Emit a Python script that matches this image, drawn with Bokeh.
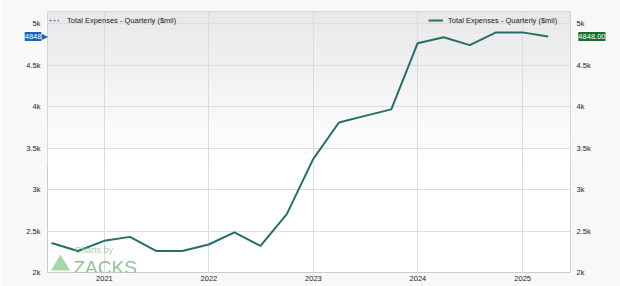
import pandas as pd
from bokeh.plotting import figure
from bokeh.models import (Range1d, LinearAxis, FixedTicker, DatetimeTickFormatter,
                          BoxAnnotation, Legend, LegendItem, Label, PolyAnnotation, ColumnDataSource)
from bokeh.embed import file_html
from bokeh.resources import INLINE

# ---- data ----
quarters = ["2020-06-30", "2020-09-30", "2020-12-31", "2021-03-31", "2021-06-30", "2021-09-30",
            "2021-12-31", "2022-03-31", "2022-06-30", "2022-09-30", "2022-12-31", "2023-03-31",
            "2023-06-30", "2023-09-30", "2023-12-31", "2024-03-31", "2024-06-30", "2024-09-30",
            "2024-12-31", "2025-03-31"]
expenses = [2357, 2260, 2382, 2430, 2260, 2260, 2338, 2484, 2321, 2704, 3369, 3810,
            3890, 3969, 4768, 4840, 4744, 4898, 4898, 4848]
series_name = "Total Expenses - Quarterly ($mil)"
year_ticks = ["2021-01-01", "2022-01-01", "2023-01-01", "2024-01-01", "2025-01-01"]
y_ticks = [2000, 2500, 3000, 3500, 4000, 4500, 5000]
y_tick_labels = ["2k", "2.5k", "3k", "3.5k", "4k", "4.5k", "5k"]
last_value = expenses[-1]
left_tag_text = "4848"
right_tag_text = "4848.00"

FONT = "Liberation Sans"
LINE_COLOR = "#266e6a"
BLUE_TAG = "#1a66b3"
GREEN_TAG = "#1b6e2c"

dates = pd.to_datetime(quarters)
src = ColumnDataSource(dict(x=dates, y=expenses))

y0, y1 = 2000, 5150
x0, x1 = pd.Timestamp("2020-06-16"), pd.Timestamp("2025-06-17")
FRAME_W, FRAME_H = 525, 261

p = figure(width=620, height=286, x_axis_type="datetime", y_axis_location=None,
           output_backend="svg", toolbar_location=None,
           x_range=Range1d(x0, x1), y_range=Range1d(y0, y1),
           min_border_left=47, min_border_right=48, min_border_top=11, min_border_bottom=14)
p.border_fill_color = "#f8f8f8"
p.background_fill_color = "#ffffff"
p.outline_line_color = "#cccccc"

# gradient background (top grey -> white)
n_bands = 40
g_top, g_bottom = 5150, 3300
for i in range(n_bands):
    t = i / (n_bands - 1)
    c = int(round(231 + (255 - 231) * t))
    top = g_top - (g_top - g_bottom) * i / n_bands
    bot = g_top - (g_top - g_bottom) * (i + 1) / n_bands
    p.add_layout(BoxAnnotation(top=top, bottom=bot, fill_color=f"#{c:02x}{c:02x}{c:02x}",
                               fill_alpha=1, line_color=None, level="image"))

# axes
yt = FixedTicker(ticks=y_ticks)
overrides = {v: lab for v, lab in zip(y_ticks, y_tick_labels)}
for side, standoff in (("left", 7), ("right", 6)):
    ax = LinearAxis(ticker=yt, major_label_overrides=overrides)
    ax.axis_line_color = None
    ax.major_tick_line_color = None
    ax.minor_tick_line_color = None
    ax.major_tick_out = 0
    ax.major_label_standoff = standoff
    ax.major_label_text_font = FONT
    ax.major_label_text_font_size = "7.5px"
    ax.major_label_text_color = "#222222"
    p.add_layout(ax, side)

xticks = [pd.Timestamp(d).value // 10**6 for d in year_ticks]
p.xaxis.ticker = FixedTicker(ticks=xticks)
p.xaxis.formatter = DatetimeTickFormatter(years="%Y", months="%Y", days="%Y", hours="%Y")
p.xaxis.axis_line_color = None
p.xaxis.major_tick_line_color = None
p.xaxis.minor_tick_line_color = None
p.xaxis.major_tick_out = 0
p.xaxis.major_label_standoff = 3
p.xaxis.major_label_text_font = FONT
p.xaxis.major_label_text_font_size = "7.5px"
p.xaxis.major_label_text_color = "#222222"

p.xgrid.ticker = FixedTicker(ticks=xticks)
p.ygrid.ticker = yt
p.xgrid.grid_line_color = "#dcdcdc"
p.ygrid.grid_line_color = "#dcdcdc"

# main line
main = p.line("x", "y", source=src, line_color=LINE_COLOR, line_width=2)
dummy = p.line(x=[x0, x0], y=[y0 - 100, y0 - 100], line_color="#3d78c8", line_width=1.5, line_dash="2 2")

leg_l = Legend(items=[LegendItem(label=series_name, renderers=[dummy])],
               location=(2, 247), margin=0, padding=4, spacing=0,
               glyph_width=10, glyph_height=10, label_height=10, label_standoff=8,
               label_text_font=FONT, label_text_font_size="7.5px", label_text_color="#222222",
               border_line_color=None, background_fill_alpha=0)
leg_r = Legend(items=[LegendItem(label=series_name, renderers=[main])],
               location=(381, 247), margin=0, padding=4, spacing=0,
               glyph_width=15, glyph_height=10, label_height=10, label_standoff=5,
               label_text_font=FONT, label_text_font_size="7.5px", label_text_color="#222222",
               border_line_color=None, background_fill_alpha=0)
p.add_layout(leg_l)
p.add_layout(leg_r)

# value tags (side panels so they are not clipped to the frame)
x0_ms = x0.value / 1e6
ms_per_px = (x1.value - x0.value) / 1e6 / FRAME_W
def xpx(px):  # pixel offset from frame left -> epoch ms
    return x0_ms + ms_per_px * px

p.add_layout(Label(x=xpx(-14.5), y=last_value, text=left_tag_text,
                   text_align="center", text_baseline="middle", text_color="white",
                   text_font=FONT, text_font_size="7.5px",
                   background_fill_color=BLUE_TAG, background_fill_alpha=1, padding=(0, 2)), "left")
p.add_layout(Label(x=xpx(0.5), y=last_value, text="\u25B6",
                   text_align="right", text_baseline="middle", text_color=BLUE_TAG,
                   text_font="DejaVu Sans", text_font_size="8px"), "left")
p.add_layout(Label(x=xpx(FRAME_W + 21.5), y=last_value, text=right_tag_text,
                   text_align="center", text_baseline="middle", text_color="white",
                   text_font=FONT, text_font_size="7.5px",
                   background_fill_color=GREEN_TAG, background_fill_alpha=1, padding=(0, 2)), "right")

# watermark
p.add_layout(PolyAnnotation(xs=[3.5, 13, 22.5], ys=[2, 18, 2], xs_units="screen", ys_units="screen",
                            fill_color="#6dbb6d", fill_alpha=0.6, line_color=None))
p.add_layout(Label(x=27, y=23, x_units="screen", y_units="screen", text="Charts by",
                   text_baseline="middle", text_color="#8cc48c", text_alpha=0.8,
                   text_font=FONT, text_font_size="9px"))
p.add_layout(Label(x=26, y=5.5, x_units="screen", y_units="screen", text="ZACKS",
                   text_baseline="alphabetic", text_color="#6dab6d", text_alpha=0.75,
                   text_font=FONT, text_font_size="19px"))

open("out.html", "w").write(file_html(p, INLINE))
